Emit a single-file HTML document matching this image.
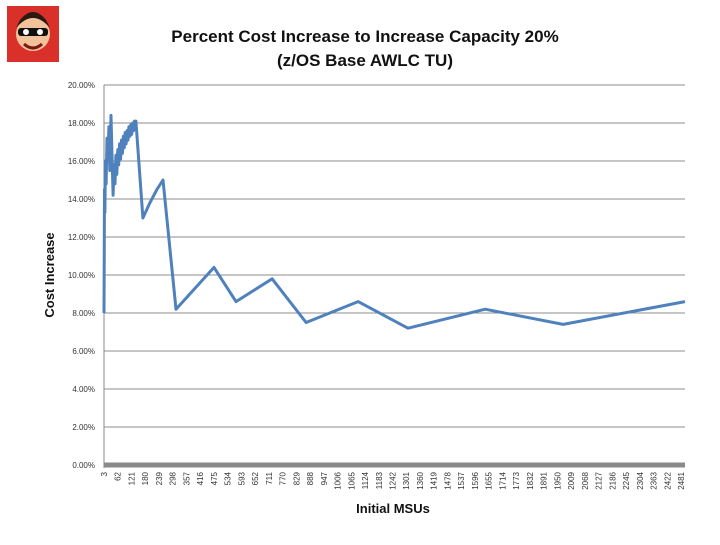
<!DOCTYPE html>
<html><head><meta charset="utf-8"><style>
body{margin:0;background:#fff;width:720px;height:540px;overflow:hidden;font-family:"Liberation Sans",sans-serif}
</style></head><body>
<svg width="720" height="540">
<g>
<rect x="7" y="6" width="52" height="56" fill="#d9302a"/>
<circle cx="33" cy="34" r="17" fill="#f2c29a"/>
<path d="M16 28 Q33 8 50 28 L46 20 Q33 4 20 20Z" fill="#2a1a12"/>
<rect x="18" y="28" width="30" height="8" rx="3" fill="#111"/>
<circle cx="26" cy="32" r="3" fill="#fff"/><circle cx="40" cy="32" r="3" fill="#fff"/>
<path d="M24 44 Q33 52 42 44" stroke="#7a1a10" stroke-width="3" fill="none"/>
</g>
<text x="365" y="42" text-anchor="middle" font-size="17" font-weight="bold" fill="#111">Percent Cost Increase to Increase Capacity 20%</text>
<text x="365" y="66" text-anchor="middle" font-size="17" font-weight="bold" fill="#111">(z/OS Base AWLC TU)</text>
<text transform="translate(54,275) rotate(-90)" text-anchor="middle" font-size="13" font-weight="bold" fill="#111">Cost Increase</text>
<text x="393" y="513" text-anchor="middle" font-size="13" font-weight="bold" fill="#111">Initial MSUs</text>
<g id="grid"></g><g id="xl"></g>
<path id="line" fill="none" stroke="#4f81bd" stroke-width="3" stroke-linejoin="round"/>
</svg>
<script>
const yTicks=[0,2,4,6,8,10,12,14,16,18,20];
const xLabels=[];for(let v=3;v<=2481;v+=59)xLabels.push(v);
const msu=[3,5,7,9,12,16,20,24,28,33,37,42,46,50,54,58,62,66,70,74,78,82,86,90,94,98,102,106,110,114,118,122,126,130,134,140,170,200,230,256,312,475,569,724,870,1093,1307,1638,1972,2495];
const pct=[8.0,14.5,13.3,16.0,14.8,17.2,16.2,17.8,15.5,18.4,16.5,14.2,15.8,14.8,16.3,15.3,16.6,15.8,16.9,16.1,17.1,16.4,17.3,16.7,17.5,16.9,17.6,17.1,17.8,17.3,17.9,17.4,18.0,17.6,18.1,18.1,13.0,13.8,14.5,15.0,8.2,10.4,8.6,9.8,7.5,8.6,7.2,8.2,7.4,8.6];
const X0=104,X1=685,Y0=465,Y1=85,XMIN=3,XMAX=2495;
const sx=v=>X0+(v-XMIN)/(XMAX-XMIN)*(X1-X0);
const sy=v=>Y0-(v/20)*(Y0-Y1);
const NS="http://www.w3.org/2000/svg";
const g=document.getElementById('grid');
yTicks.forEach(t=>{
 const l=document.createElementNS(NS,'line');
 l.setAttribute('x1',X0);l.setAttribute('x2',X1);l.setAttribute('y1',sy(t));l.setAttribute('y2',sy(t));
 l.setAttribute('stroke',t===0?'#8a8a8a':'#8c8c8c');l.setAttribute('stroke-width',t===0?5:1);
 
 
 g.appendChild(l);
 const tx=document.createElementNS(NS,'text');
 tx.setAttribute('x',95);tx.setAttribute('y',sy(t)+3);tx.setAttribute('text-anchor','end');
 tx.setAttribute('font-size','8');tx.setAttribute('fill','#333');tx.textContent=t.toFixed(2)+'%';
 
 
 g.appendChild(tx);
});
const ax=document.createElementNS(NS,'line');
ax.setAttribute('x1',X0);ax.setAttribute('x2',X0);ax.setAttribute('y1',Y1);ax.setAttribute('y2',Y0+3);ax.setAttribute('stroke','#888');


g.appendChild(ax);
const xl=document.getElementById('xl');
xLabels.forEach((v,i)=>{
 const x=X0+i*(681-X0)/(xLabels.length-1);
 const t=document.createElementNS(NS,'text');
 t.setAttribute('transform',`translate(${x+3},472) rotate(-90)`);
 t.setAttribute('text-anchor','end');t.setAttribute('font-size','8');t.setAttribute('fill','#333');
 t.textContent=v;
 
 
 xl.appendChild(t);
});
document.getElementById('line').setAttribute('d',msu.map((v,i)=>(i?'L':'M')+sx(v).toFixed(1)+' '+sy(pct[i]).toFixed(1)).join(' '));
</script>
</body></html>
